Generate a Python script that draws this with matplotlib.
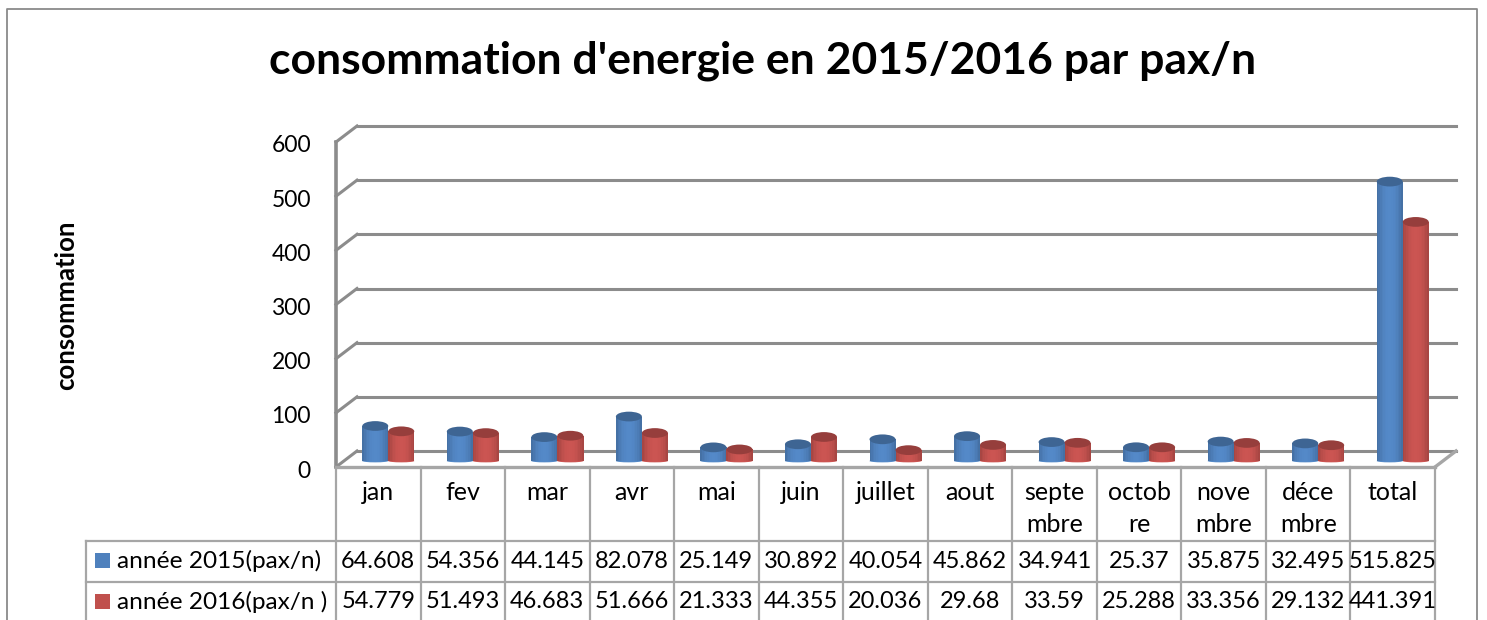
import numpy as np
import matplotlib
matplotlib.use('Agg')
import matplotlib.pyplot as plt
from matplotlib.colors import to_rgb
from matplotlib.patches import Ellipse, Rectangle
from matplotlib.transforms import Affine2D

plt.rcParams['font.family'] = ['Lato', 'DejaVu Sans']

# Data
months = ['jan', 'fev', 'mar', 'avr', 'mai', 'juin', 'juillet', 'aout',
          'septe\nmbre', 'octob\nre', 'nove\nmbre', 'déce\nmbre', 'total']
values_2015 = [64.608, 54.356, 44.145, 82.078, 25.149, 30.892, 40.054,
               45.862, 34.941, 25.37, 35.875, 32.495, 515.825]
values_2016 = [54.779, 51.493, 46.683, 51.666, 21.333, 44.355, 20.036,
               29.68, 33.59, 25.288, 33.356, 29.132, 441.391]
labels_2015 = ['64.608', '54.356', '44.145', '82.078', '25.149', '30.892', '40.054',
               '45.862', '34.941', '25.37', '35.875', '32.495', '515.825']
labels_2016 = ['54.779', '51.493', '46.683', '51.666', '21.333', '44.355', '20.036',
               '29.68', '33.59', '25.288', '33.356', '29.132', '441.391']
series_names = ['année 2015(pax/n)', 'année 2016(pax/n )']
yticks = [0, 100, 200, 300, 400, 500, 600]

BLUE = '#4F81BD'
RED = '#C0504D'
GREY = '#8C8C8C'
LIGHT = '#A6A6A6'

W, H = 1487, 620
fig = plt.figure(figsize=(W / 100, H / 100), dpi=100, facecolor='white')
# px: reference image pixels, y going down
px = Affine2D().scale(1 / W, -1 / H).translate(0, 1) + fig.transFigure


def pline(xs, ys, color=LIGHT, lw=1.6):
    fig.add_artist(plt.Line2D(xs, ys, transform=px, color=color, lw=lw))


def ptext(x, y, s, **kw):
    fig.text(x, y, s, transform=px, color='black', **kw)


# outer frame
pline([7, 7, 1477, 1477], [620, 9, 9, 620], color='#8A8A8A', lw=1.3)

ax = fig.add_axes([336 / W, (H - 467) / H, (1435 - 336) / W, 325 / H])
ax.set_xlim(0, 13)
ax.set_ylim(0, 600)
ax.patch.set_visible(False)
for s in ['top', 'right', 'bottom', 'left']:
    ax.spines[s].set_visible(False)
ax.set_xticks([])
ax.set_yticks(yticks)
ax.tick_params(axis='y', length=0, pad=18, labelsize=16.5)
for lab in ax.get_yticklabels():
    lab.set_transform(lab.get_transform() + Affine2D().translate(0, -2))

# back wall and floor offset, 3D look
back = ax.transData + Affine2D().translate(21, 16)
for v in yticks:
    ax.plot([0, 13], [v, v], transform=back, color=GREY, lw=2.2, clip_on=False, zorder=1)
    ax.plot([0, 21 * 13 / 1099], [v, v + 16 * 600 / 325], color=GREY, lw=2.2,
            clip_on=False, zorder=1)
ax.plot([0, 0], [0, 600], color=GREY, lw=2.6, clip_on=False, zorder=2)
ax.plot([0, 13], [0, 0], color=LIGHT, lw=2.4, clip_on=False, zorder=2)
ax.plot([13, 13 + 21 * 13 / 1099], [0, 16 * 600 / 325], color=LIGHT, lw=2.4,
        clip_on=False, zorder=2)

# cylinders: thin strips give the round shading
bar_w = 26 / (1099 / 13)
n_strips = 16
shift = ax.transData + Affine2D().translate(10, 6)


def shade(color, t):
    base = np.array(to_rgb(color))
    k = 0.68 + 0.38 * np.sin(np.pi * (0.08 + 0.84 * t)) ** 0.6
    return tuple(np.clip(base * k, 0, 1))


def cylinders(values, offset, color, z):
    for i, v in enumerate(values):
        x0 = i + 0.5 + offset - bar_w / 2
        edges = np.linspace(x0, x0 + bar_w, n_strips + 1)
        for j in range(n_strips):
            ax.bar(edges[j], v, width=edges[j + 1] - edges[j] + 0.002, align='edge',
                   color=shade(color, (j + 0.5) / n_strips), lw=0,
                   transform=shift, clip_on=False, zorder=z)
        cx = i + 0.5 + offset
        ax.add_patch(Ellipse((cx, v), bar_w, 18, facecolor=np.array(to_rgb(color)) * 0.78,
                             lw=0, transform=shift, clip_on=False, zorder=z + 0.1))
        ax.add_patch(Ellipse((cx, 0), bar_w, 5, facecolor=shade(color, 0.5),
                             lw=0, transform=shift, clip_on=False, zorder=z - 0.1))


cylinders(values_2015, -bar_w / 2, BLUE, 3)
cylinders(values_2016, bar_w / 2, RED, 4)

# title and axis label
ptext(763, 61, "consommation d'energie en 2015/2016 par pax/n", fontsize=32,
      fontweight='bold', ha='center', va='center')
ptext(66, 305, 'consommation', fontsize=18.5, fontweight='bold', rotation=90,
      ha='center', va='center')

# data table
col = 1099 / 13
for k in range(14):
    pline([336 + k * col] * 2, [467, 620])
pline([86, 86], [541, 620])
pline([86, 1435], [541, 541])
pline([86, 1435], [582, 582])

for i, m in enumerate(months):
    cx = 336 + (i + 0.5) * col
    parts = m.split('\n')
    ptext(cx, 493, parts[0], fontsize=18, ha='center', va='center')
    if len(parts) > 1:
        ptext(cx, 524, parts[1], fontsize=18, ha='center', va='center')
    ptext(cx, 561, labels_2015[i], fontsize=17, ha='center', va='center')
    ptext(cx, 602, labels_2016[i], fontsize=17, ha='center', va='center')

for y, c, name in zip([561, 602], [BLUE, RED], series_names):
    fig.add_artist(Rectangle((95, y - 8), 15, 15, transform=px, facecolor=c, lw=0))
    ptext(117, y, name, fontsize=17.6, ha='left', va='center')

fig.savefig('out.png', dpi=100)
